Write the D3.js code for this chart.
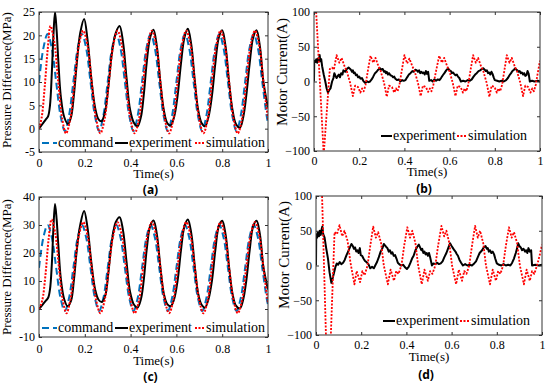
<!DOCTYPE html>
<html>
<head>
<meta charset="utf-8">
<script src="https://cdn.jsdelivr.net/npm/d3@7"></script>
<style>
  body { margin: 0; background: #fff; }
  svg { display: block; }
  svg text { font-family: "Liberation Serif", "DejaVu Serif", serif; }
  svg text.tag { font-family: "Noto Sans", "DejaVu Sans", sans-serif; font-weight: bold; }
</style>
</head>
<body>
<svg id="chart" width="550" height="386"></svg>
<script>
// ---- data: [time s, value] ----
const timeTicks = [0, 0.2, 0.4, 0.6, 0.8, 1];
const pressTicksA = [-5, 0, 5, 10, 15, 20, 25];
const pressTicksC = [-10, 0, 10, 20, 30, 40];
const currentTicks = [-100, -50, 0, 50, 100];

// (a) pressure difference, MPa
const cmdA = [[0,10],[0.019,17.2],[0.0375,20.3],[0.056,17.2],[0.075,10],[0.094,2.8],[0.1125,-0.5],[0.131,2.8],
  [0.15,10],[0.169,17.2],[0.1875,20.3],[0.206,17.2],[0.225,10],[0.244,2.8],[0.2625,-0.5],[0.281,2.8],
  [0.3,10],[0.319,17.2],[0.3375,20.3],[0.356,17.2],[0.375,10],[0.394,2.8],[0.4125,-0.5],[0.431,2.8],
  [0.45,10],[0.469,17.2],[0.4875,20.3],[0.506,17.2],[0.525,10],[0.544,2.8],[0.5625,-0.5],[0.581,2.8],
  [0.6,10],[0.619,17.2],[0.6375,20.3],[0.656,17.2],[0.675,10],[0.694,2.8],[0.7125,-0.5],[0.731,2.8],
  [0.75,10],[0.769,17.2],[0.7875,20.3],[0.806,17.2],[0.825,10],[0.844,2.8],[0.8625,-0.5],[0.881,2.8],
  [0.9,10],[0.919,17.2],[0.9375,20.3],[0.956,17.2],[0.975,10],[0.994,2.8],[1,1.2]];
const expA = [[0,0],[0.015,1],[0.03,2],[0.04,2.7],[0.048,5],[0.056,12],[0.063,20],[0.07,25],[0.077,21],[0.085,14],
  [0.095,7],[0.11,2.5],[0.127,1],[0.14,2.5],[0.152,7],[0.165,14],[0.18,20.5],[0.197,23.5],[0.212,19],[0.228,11],
  [0.245,4.5],[0.26,2],[0.273,1.6],[0.288,3.5],[0.303,9],[0.318,16],[0.335,20.5],[0.352,22],[0.367,18.5],[0.382,11],
  [0.398,4],[0.415,1.2],[0.43,0.5],[0.445,2.5],[0.457,7],[0.47,14],[0.485,19.5],[0.5,21.2],[0.515,17.5],[0.53,10],
  [0.545,4],[0.56,1.2],[0.575,0.7],[0.59,2.5],[0.605,7],[0.62,14],[0.635,19.5],[0.65,21.4],[0.665,18],[0.68,10.5],
  [0.695,4],[0.71,1.2],[0.725,0.5],[0.74,2.5],[0.755,7],[0.77,14],[0.785,19.5],[0.8,21.1],[0.815,17.5],[0.83,10],
  [0.845,4],[0.86,1],[0.877,0.2],[0.892,2.5],[0.905,7],[0.92,14],[0.935,19.5],[0.95,21.1],[0.965,17.5],[0.98,10],[1,4.5]];
const simA = [[0,0],[0.012,2.5],[0.025,9],[0.038,17],[0.05,22],[0.067,18.5],[0.084,10],[0.101,2.2],[0.118,-1],
  [0.137,2.2],[0.155,10],[0.174,17.8],[0.193,21],[0.212,17.8],[0.23,10],[0.249,2.2],[0.268,-1],
  [0.287,2.2],[0.305,10],[0.324,17.8],[0.343,21],[0.362,17.8],[0.38,10],[0.399,2.2],[0.418,-1],
  [0.437,2.2],[0.455,10],[0.474,17.8],[0.493,21],[0.512,17.8],[0.53,10],[0.549,2.2],[0.568,-1],
  [0.587,2.2],[0.605,10],[0.624,17.8],[0.643,21],[0.662,17.8],[0.68,10],[0.699,2.2],[0.718,-1],
  [0.737,2.2],[0.755,10],[0.774,17.8],[0.793,21],[0.812,17.8],[0.83,10],[0.849,2.2],[0.868,-1],
  [0.887,2.2],[0.905,10],[0.924,17.8],[0.943,21],[0.962,17.8],[0.98,10],[1,2]];

// (b) motor current, A
const expB = [[0,0],[0.001,30],[0.006,28],[0.01,32],[0.014,27],[0.018,33],[0.022,30],[0.025,38],[0.028,29],[0.032,32],
  [0.036,22],[0.043,10],[0.05,0],[0.056,-10],[0.062,-16],[0.068,-12],[0.073,-10],[0.08,0],[0.086,5],[0.09,12],
  [0.095,8],[0.1,5],[0.105,8],[0.11,10],[0.115,6],[0.12,12],[0.126,10],[0.13,16],[0.138,14],[0.145,18],[0.153,20],
  [0.16,18],[0.165,16],[0.168,14],[0.172,16],[0.176,12],[0.18,13],[0.185,9],[0.19,10],[0.195,6],[0.2,7],[0.206,4],
  [0.212,5],[0.218,1],[0.226,-2],[0.235,0],[0.242,-1],[0.248,0],[0.255,3],[0.262,7],[0.27,12],[0.277,14],[0.284,17],
  [0.292,19],[0.298,17],[0.304,18],[0.31,14],[0.314,15],[0.318,12],[0.322,14],[0.327,10],[0.332,12],[0.338,9],
  [0.345,8],[0.35,6],[0.355,7],[0.36,4],[0.368,2],[0.375,3],[0.382,0],[0.39,2],[0.397,1],[0.405,2],[0.412,6],
  [0.42,10],[0.427,12],[0.435,15],[0.442,14],[0.448,17],[0.455,16],[0.46,14],[0.465,16],[0.47,12],[0.475,14],
  [0.48,12],[0.485,13],[0.49,10],[0.495,15],[0.5,11],[0.505,14],[0.51,1],[0.518,2],[0.525,0],[0.533,3],[0.54,1],
  [0.548,3],[0.555,2],[0.562,5],[0.57,9],[0.577,12],[0.585,16],[0.593,19],[0.6,16],[0.606,15],[0.61,12],[0.615,13],
  [0.62,11],[0.626,9],[0.632,10],[0.637,7],[0.643,5],[0.65,0],[0.66,1],[0.67,0],[0.68,2],[0.69,1],[0.698,3],
  [0.706,7],[0.713,10],[0.72,12],[0.728,15],[0.735,16],[0.742,18],[0.749,19],[0.755,17],[0.76,15],[0.765,16],
  [0.77,12],[0.775,13],[0.78,10],[0.785,14],[0.79,11],[0.795,6],[0.8,2],[0.81,1],[0.82,0],[0.83,1],[0.84,0],
  [0.85,2],[0.858,5],[0.865,9],[0.872,12],[0.878,15],[0.885,17],[0.89,19],[0.895,17],[0.9,16],[0.905,14],[0.91,15],
  [0.915,12],[0.92,13],[0.925,10],[0.93,12],[0.935,8],[0.94,9],[0.945,15],[0.95,11],[0.955,0],[0.965,1],[0.975,0],
  [0.99,1],[1,0]];
const simB = [[0,100],[0.008,110],[0.043,-105],[0.07,18],[0.08,20],[0.088,17],[0.1,38],[0.112,27],[0.122,34],[0.135,22],
  [0.145,15],[0.16,-2],[0.172,-21],[0.182,-6],[0.195,-8],[0.205,-16],[0.213,-10],[0.22,-14],[0.228,-5],[0.238,15],
  [0.25,37],[0.262,27],[0.272,34],[0.285,22],[0.295,15],[0.31,-2],[0.322,-22],[0.332,-6],[0.345,-8],[0.355,-16],
  [0.363,-10],[0.37,-14],[0.378,-5],[0.388,15],[0.4,38],[0.412,26],[0.422,33],[0.435,22],[0.445,15],[0.46,-2],
  [0.472,-21],[0.482,-6],[0.495,-8],[0.505,-15],[0.513,-10],[0.52,-14],[0.528,-5],[0.54,15],[0.554,37],[0.566,27],
  [0.576,34],[0.589,22],[0.599,15],[0.614,-2],[0.626,-21],[0.636,-6],[0.649,-8],[0.659,-16],[0.667,-10],[0.674,-14],
  [0.682,-5],[0.692,15],[0.704,38],[0.716,27],[0.726,34],[0.739,22],[0.749,15],[0.764,-2],[0.776,-22],[0.786,-6],
  [0.799,-8],[0.809,-16],[0.817,-10],[0.824,-14],[0.832,-5],[0.842,15],[0.853,38],[0.865,27],[0.875,34],[0.888,22],
  [0.898,15],[0.913,-2],[0.925,-21],[0.935,-6],[0.948,-8],[0.958,-16],[0.966,-10],[0.973,-14],[0.981,-5],[0.99,12],[1,30]];

// (c) pressure difference, MPa
const cmdC = [[0,14.7],[0.019,25.5],[0.0375,30],[0.056,25.5],[0.075,14.7],[0.094,3.9],[0.1125,-0.7],[0.131,3.9],
  [0.15,14.7],[0.169,25.5],[0.1875,30],[0.206,25.5],[0.225,14.7],[0.244,3.9],[0.2625,-0.7],[0.281,3.9],
  [0.3,14.7],[0.319,25.5],[0.3375,30],[0.356,25.5],[0.375,14.7],[0.394,3.9],[0.4125,-0.7],[0.431,3.9],
  [0.45,14.7],[0.469,25.5],[0.4875,30],[0.506,25.5],[0.525,14.7],[0.544,3.9],[0.5625,-0.7],[0.581,3.9],
  [0.6,14.7],[0.619,25.5],[0.6375,30],[0.656,25.5],[0.675,14.7],[0.694,3.9],[0.7125,-0.7],[0.731,3.9],
  [0.75,14.7],[0.769,25.5],[0.7875,30],[0.806,25.5],[0.825,14.7],[0.844,3.9],[0.8625,-0.7],[0.881,3.9],
  [0.9,14.7],[0.919,25.5],[0.9375,30],[0.956,25.5],[0.975,14.7],[0.994,3.9],[1,1.5]];
const expC = [[0,0],[0.015,1.5],[0.03,3],[0.04,4],[0.048,7],[0.056,16],[0.063,29],[0.07,37.5],[0.077,32],[0.085,22],
  [0.095,11],[0.11,3.5],[0.125,1],[0.14,3],[0.152,10],[0.165,21],[0.18,30],[0.197,35],[0.212,29],[0.228,17],
  [0.245,7],[0.26,3.3],[0.275,2.5],[0.29,5],[0.303,13],[0.318,24],[0.335,31],[0.352,32.8],[0.367,28],[0.382,17],
  [0.398,6],[0.415,1.5],[0.43,0.5],[0.445,3.5],[0.457,10],[0.47,21],[0.485,29.5],[0.5,31.6],[0.515,26.5],[0.53,15],
  [0.545,5.5],[0.56,1.7],[0.575,1],[0.59,3.5],[0.605,10],[0.62,21],[0.635,29.5],[0.65,32],[0.665,27],[0.68,15.5],
  [0.695,5.5],[0.71,1.5],[0.725,0.5],[0.74,3.5],[0.755,10],[0.77,21],[0.785,29.5],[0.8,31.5],[0.815,26.5],[0.83,15],
  [0.845,5.5],[0.86,1.2],[0.877,0.2],[0.892,3.5],[0.905,10],[0.92,21],[0.935,29.5],[0.95,31.5],[0.965,26.5],[0.98,15],[1,7]];
const simC = [[0,0],[0.014,3],[0.028,12],[0.042,25],[0.055,32],[0.071,27],[0.087,15],[0.103,3.5],[0.12,-1.5],
  [0.137,3.3],[0.155,14.8],[0.174,26.2],[0.193,31],[0.212,26.2],[0.23,14.8],[0.249,3.3],[0.268,-1.5],
  [0.287,3.3],[0.305,14.8],[0.324,26.2],[0.343,31],[0.362,26.2],[0.38,14.8],[0.399,3.3],[0.418,-1.5],
  [0.437,3.3],[0.455,14.8],[0.474,26.2],[0.493,31],[0.512,26.2],[0.53,14.8],[0.549,3.3],[0.568,-1.5],
  [0.587,3.3],[0.605,14.8],[0.624,26.2],[0.643,31],[0.662,26.2],[0.68,14.8],[0.699,3.3],[0.718,-1.5],
  [0.737,3.3],[0.755,14.8],[0.774,26.2],[0.793,31],[0.812,26.2],[0.83,14.8],[0.849,3.3],[0.868,-1.5],
  [0.887,3.3],[0.905,14.8],[0.924,26.2],[0.943,31],[0.962,26.2],[0.98,14.8],[1,2]];

// (d) motor current, A
const expD = [[0,0],[0.001,45],[0.005,40],[0.009,48],[0.013,42],[0.017,50],[0.021,44],[0.025,52],[0.028,56],[0.032,45],
  [0.038,40],[0.045,25],[0.053,10],[0.06,-10],[0.068,-25],[0.074,-18],[0.08,-10],[0.086,-2],[0.092,3],[0.098,1],
  [0.105,5],[0.112,2],[0.12,4],[0.127,8],[0.135,15],[0.142,20],[0.15,26],[0.157,31],[0.163,28],[0.168,24],[0.173,26],
  [0.178,20],[0.183,22],[0.188,18],[0.194,25],[0.198,15],[0.204,14],[0.21,10],[0.216,7],[0.223,5],[0.232,2],
  [0.24,-4],[0.248,-2],[0.256,-4],[0.262,0],[0.27,5],[0.278,12],[0.286,20],[0.294,25],[0.3,31],[0.305,29],[0.31,27],
  [0.316,25],[0.322,20],[0.327,22],[0.333,17],[0.338,19],[0.344,14],[0.35,15],[0.356,10],[0.362,4],[0.368,2],
  [0.376,0],[0.386,1],[0.395,-3],[0.402,-5],[0.41,-2],[0.418,4],[0.425,10],[0.432,14],[0.44,22],[0.448,27],
  [0.455,30],[0.462,25],[0.466,22],[0.47,24],[0.475,18],[0.48,20],[0.485,16],[0.49,18],[0.495,14],[0.5,18],
  [0.505,12],[0.513,0],[0.52,3],[0.528,2],[0.536,4],[0.544,2],[0.552,3],[0.56,6],[0.568,12],[0.577,18],[0.585,25],
  [0.593,32],[0.6,28],[0.606,25],[0.612,22],[0.617,20],[0.622,17],[0.628,14],[0.635,8],[0.642,4],[0.65,0],
  [0.66,2],[0.67,0],[0.68,1],[0.69,0],[0.7,3],[0.708,6],[0.716,12],[0.724,18],[0.735,22],[0.742,26],[0.75,28],
  [0.756,24],[0.76,25],[0.765,20],[0.77,22],[0.776,18],[0.782,20],[0.788,16],[0.793,10],[0.8,3],[0.81,1],[0.82,0],
  [0.83,2],[0.84,0],[0.85,1],[0.86,0],[0.868,4],[0.876,10],[0.884,18],[0.89,25],[0.895,32],[0.9,28],[0.906,26],
  [0.912,22],[0.918,24],[0.925,20],[0.93,22],[0.935,18],[0.94,25],[0.946,20],[0.952,22],[0.956,0],[0.97,1],
  [0.985,0],[1,1]];
const simD = [[0,150],[0.02,180],[0.044,-100],[0.058,-170],[0.082,48],[0.093,45],[0.104,58],[0.116,42],[0.126,50],
  [0.14,35],[0.152,5],[0.17,-27],[0.18,-8],[0.195,-24],[0.205,-8],[0.215,-14],[0.228,0],[0.24,28],[0.253,56],
  [0.265,40],[0.275,48],[0.288,32],[0.3,0],[0.318,-27],[0.33,-6],[0.345,-22],[0.355,-8],[0.365,-12],[0.378,0],
  [0.39,28],[0.404,55],[0.416,40],[0.426,50],[0.44,32],[0.452,0],[0.468,-27],[0.48,-6],[0.495,-22],[0.505,-8],
  [0.515,-12],[0.528,0],[0.54,28],[0.555,57],[0.567,42],[0.577,50],[0.59,32],[0.602,0],[0.62,-27],[0.632,-6],
  [0.646,-22],[0.656,-8],[0.666,-12],[0.678,0],[0.69,28],[0.704,57],[0.716,40],[0.726,50],[0.74,32],[0.752,0],
  [0.77,-27],[0.782,-6],[0.796,-22],[0.806,-8],[0.816,-12],[0.828,0],[0.84,28],[0.854,55],[0.866,40],[0.876,48],
  [0.89,32],[0.902,0],[0.92,-27],[0.932,-6],[0.946,-22],[0.956,-8],[0.966,-12],[0.978,0],[0.99,15],[1,30]];

// ---- styles ----
const cmdStyle = { color: "#0072BD", width: 2, dash: "7,4", curve: d3.curveCatmullRom, name: "command" };
const expStyle = { color: "#000", width: 2, dash: null, curve: d3.curveCatmullRom, name: "experiment" };
const simStyle = { color: "#ff0000", width: 2, dash: "2,1.5", curve: d3.curveCatmullRom, name: "simulation" };
const expStyleI = Object.assign({}, expStyle, { curve: d3.curveLinear });
const simStyleI = Object.assign({}, simStyle, { curve: d3.curveLinear, width: 1.8 });

const svg = d3.select("#chart");

function drawPanel(p) {
  const x = d3.scaleLinear().domain([0, 1]).range([p.left, p.right]);
  const y = d3.scaleLinear().domain(p.yDomain).range([p.bottom, p.top]);
  const g = svg.append("g");

  g.append("clipPath").attr("id", "clip-" + p.id)
    .append("rect")
    .attr("x", p.left).attr("y", p.top)
    .attr("width", p.right - p.left).attr("height", p.bottom - p.top);

  const line = d3.line().x(d => x(d[0])).y(d => y(d[1]));

  p.series.forEach(s => {
    g.append("path")
      .datum(s.data)
      .attr("clip-path", `url(#clip-${p.id})`)
      .attr("fill", "none")
      .attr("stroke", s.style.color)
      .attr("stroke-width", s.style.width)
      .attr("stroke-dasharray", s.style.dash)
      .attr("stroke-linejoin", "round")
      .attr("d", line.curve(s.style.curve)(s.data));
  });

  // axes, ticks pointing inside
  const fmtY = p.hyphen ? (d => String(d)) : d3.format("");
  const axes = [
    g.append("g").attr("transform", `translate(0,${p.bottom})`)
      .call(d3.axisBottom(x).tickValues(timeTicks).tickFormat(d => String(d)).tickSize(-3).tickPadding(p.xPad)),
    g.append("g").attr("transform", `translate(0,${p.top})`)
      .call(d3.axisTop(x).tickValues(timeTicks).tickFormat("").tickSize(-3)),
    g.append("g").attr("transform", `translate(${p.left},0)`)
      .call(d3.axisLeft(y).tickValues(p.yTicks).tickFormat(fmtY).tickSize(-3).tickPadding(4)),
    g.append("g").attr("transform", `translate(${p.right},0)`)
      .call(d3.axisRight(y).tickValues(p.yTicks).tickFormat("").tickSize(-3))
  ];
  axes.forEach(a => {
    a.select(".domain").remove();
    a.selectAll(".tick line").attr("stroke", "#333");
    a.attr("font-family", null).attr("font-size", 12);
    a.selectAll(".tick text").attr("fill", "#000");
  });

  g.append("rect")
    .attr("x", p.left).attr("y", p.top)
    .attr("width", p.right - p.left).attr("height", p.bottom - p.top)
    .attr("fill", "none").attr("stroke", "#333").attr("stroke-width", 1);

  // y label
  g.append("text")
    .attr("transform", `translate(${p.yLabelX},${p.yLabelY}) rotate(-90)`)
    .attr("text-anchor", "middle")
    .attr("font-size", p.yLabelSize)
    .text(p.yLabel);

  // x label and panel tag
  const cx = (p.left + p.right) / 2;
  g.append("text")
    .attr("x", cx).attr("y", p.timeY)
    .attr("text-anchor", "middle")
    .attr("font-size", 13)
    .text("Time(s)");
  g.append("text")
    .attr("class", "tag")
    .attr("x", cx - 3).attr("y", p.tagY)
    .attr("text-anchor", "middle")
    .attr("font-size", 12)
    .text(p.tag);

  // legend
  p.legend.forEach(it => {
    g.append("line")
      .attr("x1", it.x).attr("x2", it.x + it.len)
      .attr("y1", p.legendY - 4).attr("y2", p.legendY - 4)
      .attr("stroke", it.style.color)
      .attr("stroke-width", it.style.width)
      .attr("stroke-dasharray", it.style.dash);
    g.append("text")
      .attr("x", it.x + it.len + 1).attr("y", p.legendY)
      .attr("font-size", 14)
      .text(it.style.name);
  });
}

drawPanel({
  id: "a", left: 39, right: 268, top: 12, bottom: 152,
  yDomain: [-5, 25], yTicks: pressTicksA, hyphen: true, xPad: 6,
  yLabel: "Pressure Difference(MPa)", yLabelX: 11, yLabelY: 80, yLabelSize: 13,
  timeY: 178, tagY: 194, tag: "(a)",
  series: [{ data: cmdA, style: cmdStyle }, { data: expA, style: expStyle }, { data: simA, style: simStyle }],
  legendY: 147,
  legend: [{ x: 42, len: 15, style: cmdStyle }, { x: 115, len: 13, style: expStyle }, { x: 195, len: 10, style: simStyle }]
});

drawPanel({
  id: "b", left: 314, right: 540, top: 12, bottom: 151,
  yDomain: [-100, 100], yTicks: currentTicks, hyphen: false, xPad: 5,
  yLabel: "Motor Current(A)", yLabelX: 287, yLabelY: 72, yLabelSize: 15,
  timeY: 176, tagY: 193, tag: "(b)",
  series: [{ data: expB, style: expStyleI }, { data: simB, style: simStyleI }],
  legendY: 140,
  legend: [{ x: 381, len: 11, style: expStyleI }, { x: 457, len: 10, style: simStyleI }]
});

drawPanel({
  id: "c", left: 39, right: 268, top: 197, bottom: 337,
  yDomain: [-10, 40], yTicks: pressTicksC, hyphen: true, xPad: 7,
  yLabel: "Pressure Difference(MPa)", yLabelX: 11, yLabelY: 267, yLabelSize: 13,
  timeY: 365, tagY: 381, tag: "(c)",
  series: [{ data: cmdC, style: cmdStyle }, { data: expC, style: expStyle }, { data: simC, style: simStyle }],
  legendY: 332,
  legend: [{ x: 42, len: 15, style: cmdStyle }, { x: 115, len: 13, style: expStyle }, { x: 195, len: 10, style: simStyle }]
});

drawPanel({
  id: "d", left: 316, right: 542, top: 196, bottom: 335,
  yDomain: [-100, 100], yTicks: currentTicks, hyphen: false, xPad: 5,
  yLabel: "Motor Current(A)", yLabelX: 289, yLabelY: 255, yLabelSize: 15,
  timeY: 361, tagY: 379, tag: "(d)",
  series: [{ data: expD, style: expStyleI }, { data: simD, style: simStyleI }],
  legendY: 325,
  legend: [{ x: 383, len: 12, style: expStyleI }, { x: 460, len: 10, style: simStyleI }]
});
</script>
</body>
</html>
